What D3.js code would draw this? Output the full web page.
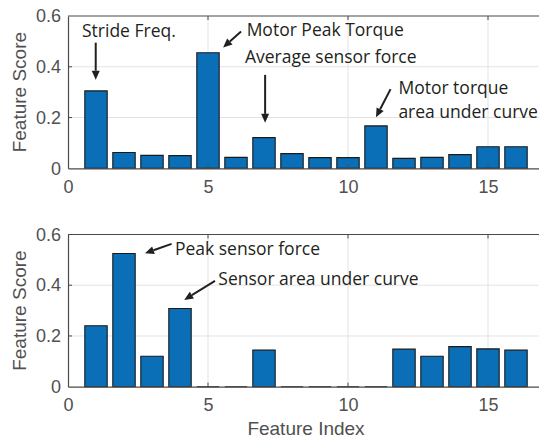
<!DOCTYPE html>
<html>
<head>
<meta charset="utf-8">
<script src="https://cdn.jsdelivr.net/npm/d3@7"></script>
<style>
  html, body { margin: 0; padding: 0; background: #fff; }
  svg { display: block; }
</style>
</head>
<body>
<svg id="chart" width="539" height="440"></svg>
<script>
// Feature indices and the score of each feature in the two panels
const featureIndex = [1, 2, 3, 4, 5, 6, 7, 8, 9, 10, 11, 12, 13, 14, 15, 16];
const topScores = [0.305, 0.062, 0.051, 0.050, 0.455, 0.043, 0.121, 0.058,
                   0.042, 0.042, 0.167, 0.039, 0.043, 0.054, 0.085, 0.085];
const bottomScores = [0.240, 0.525, 0.120, 0.308, 0, 0, 0.144, 0,
                      0, 0, 0, 0.148, 0.120, 0.158, 0.149, 0.144];
const xTickValues = [0, 5, 10, 15];
const yTickValues = [0, 0.2, 0.4, 0.6];
const yLabel = "Feature Score";
const xLabel = "Feature Index";

// Callouts, anchored in data coordinates
const topNotes = [
  { lines: ["Stride Freq."], tx: 0.50, ty: 0.516, from: [0.99, 0.495], to: [0.99, 0.349] },
  { lines: ["Motor Peak Torque"], tx: 6.38, ty: 0.520, from: [6.18, 0.539], to: [5.54, 0.476] },
  { lines: ["Average sensor force"], tx: 6.32, ty: 0.415, from: [7.04, 0.368], to: [7.04, 0.179] },
  { lines: ["Motor torque", "area under curve"], tx: 11.8, ty: 0.292, from: [11.52, 0.312], to: [11.0, 0.201] }
];
const bottomNotes = [
  { lines: ["Peak sensor force"], tx: 3.82, ty: 0.520, from: [3.70, 0.563], to: [2.75, 0.526] },
  { lines: ["Sensor area under curve"], tx: 5.37, ty: 0.401, from: [5.25, 0.417], to: [4.15, 0.342] }
];

const svg = d3.select("#chart");
const axisColor = "#4a4a4a";
const textColor = "#505050";
const gridColor = "#e3e3e3";
const barFill = "#0b6fb8";
const barEdge = "#1a1a1a";
const noteColor = "#231f20";
const barWidth = 0.8;

const x = d3.scaleLinear().domain([0, 17]).range([68, 544]);

function panel(scores, notes, top, bottom, showXLabel) {
  const y = d3.scaleLinear().domain([0, 0.6]).range([bottom, top]);
  const g = svg.append("g");
  const [x0, x1] = x.range();

  // grid
  g.selectAll(".gx").data(xTickValues.filter(d => d > 0)).join("line")
    .attr("x1", d => x(d)).attr("x2", d => x(d))
    .attr("y1", top).attr("y2", bottom)
    .attr("stroke", gridColor).attr("stroke-width", 1);
  g.selectAll(".gy").data(yTickValues.filter(d => d > 0 && d < 0.6)).join("line")
    .attr("x1", x0).attr("x2", x1)
    .attr("y1", d => y(d)).attr("y2", d => y(d))
    .attr("stroke", gridColor).attr("stroke-width", 1);

  // bars (outlined paths so zero-height bars still show as a line)
  g.selectAll(".bar").data(featureIndex.map((f, i) => ({ f, v: scores[i] }))).join("path")
    .attr("d", d => {
      const a = x(d.f - barWidth / 2), b = x(d.f + barWidth / 2);
      return `M${a},${y(0)}V${y(d.v)}H${b}V${y(0)}Z`;
    })
    .attr("fill", barFill)
    .attr("stroke", barEdge)
    .attr("stroke-width", 1.1)
    .attr("stroke-linejoin", "miter");

  // axes box: left, bottom, top
  const bottomAxis = d3.axisBottom(x).tickValues(xTickValues).tickSize(0).tickPadding(12)
    .tickFormat(d3.format("d"));
  const leftAxis = d3.axisLeft(y).tickValues(yTickValues).tickSize(0).tickPadding(7)
    .tickFormat(d => d === 0 ? "0" : d3.format(".1f")(d));

  const gb = g.append("g").attr("transform", `translate(0,${bottom})`).call(bottomAxis);
  const gl = g.append("g").attr("transform", `translate(${x0},0)`).call(leftAxis);
  [gb, gl].forEach(a => {
    a.select(".domain").attr("stroke", axisColor).attr("stroke-width", 1.2);
    a.selectAll("text").attr("fill", textColor)
      .style("font-family", "'Liberation Sans', Arial, sans-serif")
      .style("font-size", "18px");
  });
  gb.selectAll("text").attr("dy", "0.71em");

  g.append("line").attr("x1", x0).attr("x2", x1).attr("y1", top).attr("y2", top)
    .attr("stroke", axisColor).attr("stroke-width", 1.2);

  // inward tick marks
  const tickLen = 4;
  g.selectAll(".tb").data(xTickValues.filter(d => d > 0)).join("line")
    .attr("x1", d => x(d)).attr("x2", d => x(d))
    .attr("y1", bottom).attr("y2", bottom - tickLen)
    .attr("stroke", axisColor).attr("stroke-width", 1);
  g.selectAll(".tt").data(xTickValues.filter(d => d > 0)).join("line")
    .attr("x1", d => x(d)).attr("x2", d => x(d))
    .attr("y1", top).attr("y2", top + tickLen)
    .attr("stroke", axisColor).attr("stroke-width", 1);
  g.selectAll(".tl").data(yTickValues.filter(d => d > 0 && d < 0.6)).join("line")
    .attr("x1", x0).attr("x2", x0 + tickLen)
    .attr("y1", d => y(d)).attr("y2", d => y(d))
    .attr("stroke", axisColor).attr("stroke-width", 1);

  // y label
  g.append("text")
    .attr("transform", `translate(19,${(top + bottom) / 2}) rotate(-90)`)
    .attr("text-anchor", "middle")
    .attr("dy", "0.35em")
    .attr("fill", textColor)
    .style("font-family", "'Liberation Sans', Arial, sans-serif")
    .style("font-size", "19px")
    .text(yLabel);

  if (showXLabel) {
    g.append("text")
      .attr("x", 306).attr("y", 435)
      .attr("text-anchor", "middle")
      .attr("fill", textColor)
      .style("font-family", "'Liberation Sans', Arial, sans-serif")
      .style("font-size", "19px")
      .text(xLabel);
  }

  // callouts
  notes.forEach(n => {
    const t = g.append("text")
      .attr("x", x(n.tx)).attr("y", y(n.ty))
      .attr("fill", noteColor)
      .style("font-family", "'Open Sans', Lato, sans-serif")
      .style("font-size", "17.5px");
    n.lines.forEach((line, i) => {
      t.append("tspan").attr("x", x(n.tx)).attr("dy", i === 0 ? 0 : 24).text(line);
    });

    const ax = x(n.from[0]), ay = y(n.from[1]);
    const bx = x(n.to[0]), by = y(n.to[1]);
    const ang = Math.atan2(by - ay, bx - ax);
    const headLen = 9, headHalf = 4;
    const baseX = bx - headLen * Math.cos(ang), baseY = by - headLen * Math.sin(ang);
    g.append("line")
      .attr("x1", ax).attr("y1", ay).attr("x2", baseX).attr("y2", baseY)
      .attr("stroke", noteColor).attr("stroke-width", 2);
    const px = -Math.sin(ang) * headHalf, py = Math.cos(ang) * headHalf;
    g.append("path")
      .attr("d", `M${bx},${by}L${baseX + px},${baseY + py}L${baseX - px},${baseY - py}Z`)
      .attr("fill", noteColor);
  });
}

panel(topScores, topNotes, 16, 168.3, false);
panel(bottomScores, bottomNotes, 234.5, 386.7, true);
</script>
</body>
</html>
